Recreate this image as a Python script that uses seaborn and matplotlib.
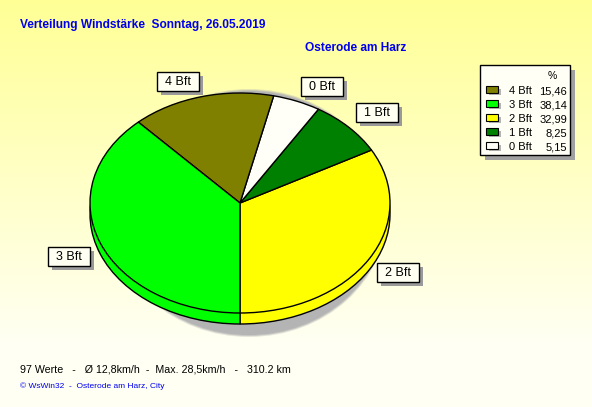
import numpy as np
import matplotlib
matplotlib.use("Agg")
import matplotlib.pyplot as plt
from matplotlib.patches import Ellipse, Rectangle
import seaborn as sns

# ---------------- data ----------------
classes = ["4 Bft", "3 Bft", "2 Bft", "1 Bft", "0 Bft"]
percent = [15.46, 38.14, 32.99, 8.25, 5.15]
class_colors = ["#808000", "#00FF00", "#FFFF00", "#008000", "#FFFFF8"]
pie_order = ["2 Bft", "1 Bft", "0 Bft", "4 Bft", "3 Bft"]

title = "Verteilung Windstärke  Sonntag, 26.05.2019"
location = "Osterode am Harz"
stats_line = "97 Werte   -   Ø 12,8km/h  -  Max. 28,5km/h   -   310.2 km"
credit_line = "© WsWin32  -  Osterode am Harz, City"

# ---------------- style ----------------
sns.set_theme(style="white")
plt.rcParams["font.family"] = ["Liberation Sans", "DejaVu Sans"]

W, H = 592, 407
fig = plt.figure(figsize=(W / 100, H / 100), dpi=100)

# background gradient
bg = fig.add_axes([0, 0, 1, 1], zorder=0)
t = np.linspace(0, 1, 200)[:, None]
top = np.array([255, 255, 150]) / 255
bot = np.array([255, 255, 244]) / 255
frac = np.clip(t / 0.85, 0, 1)
grad = top[None, None, :] * (1 - frac[..., None]) + bot[None, None, :] * frac[..., None]
grad = np.repeat(grad, 2, axis=1)
bg.imshow(grad, aspect="auto", extent=[0, 1, 0, 1])
bg.set_axis_off()

# pie axes: data units -> ellipse (rx=150px, ry=110px, centre 240,203)
cx, cy, rx, ry = 240, 203, 150, 110
ax = fig.add_axes([0, 0, 1, 1], zorder=1)
ax.patch.set_alpha(0)

idx = [classes.index(c) for c in pie_order]
vals = [percent[i] for i in idx]
cols = [class_colors[i] for i in idx]

# shadow
for k, a in enumerate([0.35, 0.6, 1.0]):
    ax.add_patch(Ellipse((9 / rx, -10 / ry), 2 * (138 - k) / rx, 2 * (124 - k) / ry,
                         facecolor="#b4b4b4", edgecolor="none", alpha=a, zorder=0))

depth = 11 / ry
ax.pie(vals, colors=cols, startangle=270, counterclock=True, center=(0, -depth),
       wedgeprops=dict(edgecolor="black", linewidth=1.0), frame=False)
ax.pie(vals, colors=cols, startangle=270, counterclock=True, center=(0, 0),
       wedgeprops=dict(edgecolor="black", linewidth=1.0), frame=False)
ax.set_aspect("auto")
ax.set_xlim((0 - cx) / rx, (W - cx) / rx)
ax.set_ylim((cy - H) / ry, cy / ry)
ax.set_axis_off()

# overlay axes in pixel coordinates
ov = fig.add_axes([0, 0, 1, 1], zorder=2)
ov.set_xlim(0, W)
ov.set_ylim(H, 0)
ov.set_axis_off()
ov.patch.set_alpha(0)

# slice labels (boxes)
label_pos = {"4 Bft": (178, 81), "0 Bft": (322, 86), "1 Bft": (377, 112),
             "2 Bft": (398, 272), "3 Bft": (69, 256)}
bw, bh = 42, 19
for name, (x, y) in label_pos.items():
    ov.add_patch(Rectangle((x - bw / 2 + 4, y - bh / 2 + 4), bw, bh,
                           facecolor="#9a9a9a", edgecolor="none"))
    ov.add_patch(Rectangle((x - bw / 2, y - bh / 2), bw, bh,
                           facecolor="#FFFFF2", edgecolor="black", linewidth=1))
    ov.text(x, y + 1, name, ha="center", va="center", fontsize=9, color="black")

# legend box
lx0, ly0, lx1, ly1 = 480, 65, 570, 155
ov.add_patch(Rectangle((lx0 + 5, ly0 + 5), lx1 - lx0, ly1 - ly0,
                       facecolor="#a0a0a0", edgecolor="none"))
ov.add_patch(Rectangle((lx0, ly0), lx1 - lx0, ly1 - ly0,
                       facecolor="#FFFFF6", edgecolor="black", linewidth=1))
ov.text(552, 76, "%", ha="center", va="center", fontsize=7.5, color="black")
row_y = [91, 105, 119, 133, 147]
for i, name in enumerate(classes):
    y = row_y[i]
    ov.add_patch(Rectangle((489, y - 2), 12, 6, facecolor="#b4b4b4", edgecolor="none"))
    ov.add_patch(Rectangle((486, y - 5), 12, 7, facecolor=class_colors[i],
                           edgecolor="black", linewidth=0.8))
    ov.text(509, y, name, ha="left", va="center", fontsize=8, color="black")
    ov.text(567, y, f"{percent[i]:.2f}".replace(".", ","), ha="right", va="center",
            fontsize=8, color="black")

# titles and footer
ov.text(20, 25, title, ha="left", va="center", fontsize=8.6, fontweight="bold",
        color="#0000EE")
ov.text(305, 48, location, ha="left", va="center", fontsize=8.6, fontweight="bold",
        color="#0000EE")
ov.text(20, 370, stats_line, ha="left", va="center", fontsize=7.7, color="black")
ov.text(20, 386, credit_line, ha="left", va="center", fontsize=6, color="#0000EE")

fig.savefig("out.png", dpi=100)
